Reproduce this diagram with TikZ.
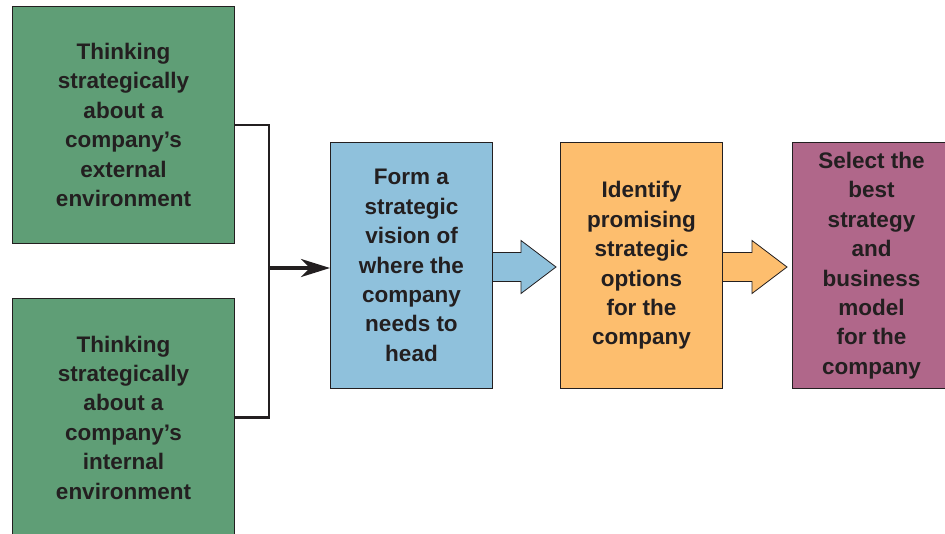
\documentclass[tikz,border=0pt]{standalone}
\usepackage{fontspec}
\setmainfont{Liberation Sans}
\usetikzlibrary{arrows.meta,calc}
\definecolor{ink}{HTML}{231F20}
\definecolor{grn}{HTML}{5F9E76}
\definecolor{blu}{HTML}{8FC1DC}
\definecolor{org}{HTML}{FDBE6E}
\definecolor{pur}{HTML}{B0678A}
\begin{document}
\begin{tikzpicture}[x=1pt,y=-1pt,
  box/.style={draw=ink, line width=1pt, text=ink, font=\fontsize{22.5}{29.4}\selectfont\bfseries,
    align=center, inner sep=0pt, anchor=north west},
  blockarrow/.style={draw=ink, line width=0.8pt, line join=miter}]
\useasboundingbox (0,0) rectangle (945,533);
\clip (0,0) rectangle (945,533);
\node[box, fill=grn, minimum width=222pt, minimum height=237pt] (g1) at (12,6)
  {Thinking\\strategically\\about a\\company’s\\external\\environment};
\node[box, fill=grn, minimum width=222pt, minimum height=238pt] (g2) at (12,298)
  {Thinking\\strategically\\about a\\company’s\\internal\\environment};
\node[box, fill=blu, minimum width=162pt, minimum height=246pt] (b) at (330,142)
  {Form a\\strategic\\vision of\\where the\\company\\needs to\\head};
\node[box, fill=org, minimum width=162pt, minimum height=246pt] (o) at (560,142)
  {Identify\\promising\\strategic\\options\\for the\\company};
\node[box, fill=pur, minimum width=158pt, minimum height=246pt] (p) at (792,142)
  {Select the\\best\\strategy\\and\\business\\model\\for the\\company};
% bracket
\draw[ink, line width=2.6pt, line join=miter] (g1.east) -- ++(34,0) |- (g2.east);
\coordinate (j) at (268,268);
\draw[ink, line width=3.5pt, -{Stealth[length=29pt,width=18pt,inset=9pt]}] (j) -- (j -| b.west);
% block arrows
\filldraw[blockarrow, fill=blu] ($(b.east)+(0,-13)$) -- ++(28,0) -- ++(0,-12)
  -- ($(b.east)+(63,1.5)$) -- ($(b.east)+(28,28)$) -- ++(0,-12) -- ($(b.east)+(0,16)$);
\filldraw[blockarrow, fill=org] ($(o.east)+(0,-13)$) -- ++(29,0) -- ++(0,-12)
  -- ($(o.east)+(64,1.5)$) -- ($(o.east)+(29,28)$) -- ++(0,-12) -- ($(o.east)+(0,16)$);
\end{tikzpicture}
\end{document}
